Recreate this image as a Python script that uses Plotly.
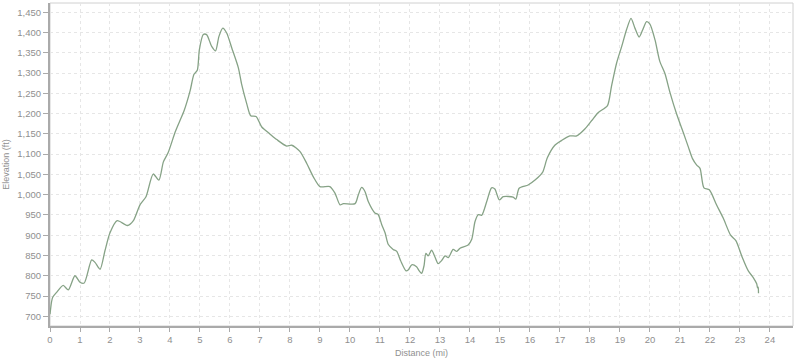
import plotly.graph_objects as go

distance_mi = [0.0, 0.05, 0.09, 0.22, 0.44, 0.61, 0.83, 1.0, 1.14, 1.39, 1.5, 1.67, 1.83, 2.0, 2.24,
               2.58, 2.78, 3.0, 3.2, 3.44, 3.63, 3.78, 3.94, 4.17, 4.31, 4.47, 4.67, 4.8, 4.91, 4.98,
               5.11, 5.22, 5.39, 5.52, 5.63, 5.76, 5.89, 6.06, 6.28, 6.39, 6.56, 6.69, 6.87, 7.06,
               7.33, 7.56, 7.89, 8.06, 8.33, 8.56, 8.78, 9.0, 9.33, 9.5, 9.67, 9.78, 10.17, 10.28,
               10.39, 10.5, 10.61, 10.83, 10.94, 11.06, 11.17, 11.28, 11.44, 11.56, 11.69, 11.87,
               11.94, 12.06, 12.22, 12.31, 12.39, 12.47, 12.53, 12.61, 12.72, 12.83, 12.94, 13.06,
               13.17, 13.28, 13.44, 13.56, 13.67, 13.94, 14.06, 14.17, 14.28, 14.39, 14.56, 14.72,
               14.83, 14.98, 15.11, 15.44, 15.53, 15.64, 15.94, 16.17, 16.42, 16.58, 16.83, 17.06,
               17.33, 17.56, 17.83, 18.06, 18.28, 18.58, 18.72, 18.89, 19.06, 19.22, 19.37, 19.5,
               19.64, 19.76, 19.89, 20.0, 20.17, 20.33, 20.5, 20.67, 20.89, 21.11, 21.28, 21.42,
               21.56, 21.67, 21.8, 21.98, 22.22, 22.44, 22.69, 22.87, 23.06, 23.28, 23.44, 23.56,
               23.59, 23.61, 23.62]
elevation_ft = [705, 735, 747, 759, 776, 765, 800, 784, 782, 839, 833, 816, 861, 906, 936,
                924, 936, 975, 995, 1051, 1036, 1081, 1104, 1154, 1179, 1207, 1256, 1297, 1307, 1358,
                1395, 1395, 1366, 1355, 1390, 1411, 1399, 1362, 1313, 1272, 1224, 1195, 1193, 1167,
                1150, 1136, 1120, 1122, 1107, 1077, 1044, 1020, 1020, 1004, 975, 978, 978, 1000,
                1018, 1008, 983, 955, 951, 926, 906, 877, 865, 860, 837, 812,
                814, 827, 822, 812, 806, 825, 855, 849, 863, 847, 830, 838,
                849, 845, 865, 860, 868, 876, 890, 934, 951, 949, 983, 1017,
                1014, 987, 995, 994, 989, 1016, 1024, 1036, 1055, 1091, 1122, 1134,
                1145, 1145, 1162, 1183, 1203, 1219, 1268, 1325, 1366, 1407, 1435, 1411,
                1389, 1407, 1427, 1421, 1382, 1329, 1299, 1252, 1199, 1154, 1118, 1089,
                1073, 1065, 1017, 1012, 975, 943, 900, 886, 849, 812, 796, 780,
                770, 772, 757]

y_tickvals = [700, 750, 800, 850, 900, 950, 1000, 1050, 1100, 1150, 1200, 1250, 1300, 1350, 1400, 1450]
y_ticktext = ["700", "750", "800", "850", "900", "950", "1,000", "1,050", "1,100", "1,150",
              "1,200", "1,250", "1,300", "1,350", "1,400", "1,450"]
x_tickvals = list(range(0, 25))

fig = go.Figure()
fig.add_trace(go.Scatter(x=distance_mi, y=elevation_ft, mode="lines",
                         line=dict(color="#86a286", width=1.3, shape="spline", smoothing=0.7),
                         hoverinfo="skip", showlegend=False))

font = dict(family="Liberation Sans", size=9.5, color="#8f8f8f")
title_font = dict(family="Liberation Sans", size=9, color="#8f8f8f")
fig.update_layout(
    width=800, height=360,
    margin=dict(l=50, r=7, t=3, b=31),
    paper_bgcolor="white", plot_bgcolor="white",
    font=font,
    xaxis=dict(range=[0, 24.77], tickvals=x_tickvals, ticks="outside", ticklen=4,
               tickcolor="#aaaaaa", showgrid=True, gridcolor="#e6e6e6", griddash="dot",
               showline=True, linecolor="#aaaaaa", linewidth=2, mirror=False,
               zeroline=False, tickfont=font,
               title=dict(text="Distance (mi)", font=title_font, standoff=5)),
    yaxis=dict(range=[676, 1473], tickvals=y_tickvals, ticktext=y_ticktext, ticks="outside",
               ticklen=5, tickcolor="#aaaaaa", showgrid=True, gridcolor="#e6e6e6", griddash="dot",
               showline=True, linecolor="#aaaaaa", linewidth=2, zeroline=False, tickfont=font,
               title=dict(text="Elevation (ft)", font=title_font, standoff=6)),
    shapes=[dict(type="rect", xref="paper", yref="paper", x0=0, x1=1, y0=0, y1=1,
                 line=dict(color="#d0d0d0", width=1), layer="below")],
)

fig.write_html("out.html")
